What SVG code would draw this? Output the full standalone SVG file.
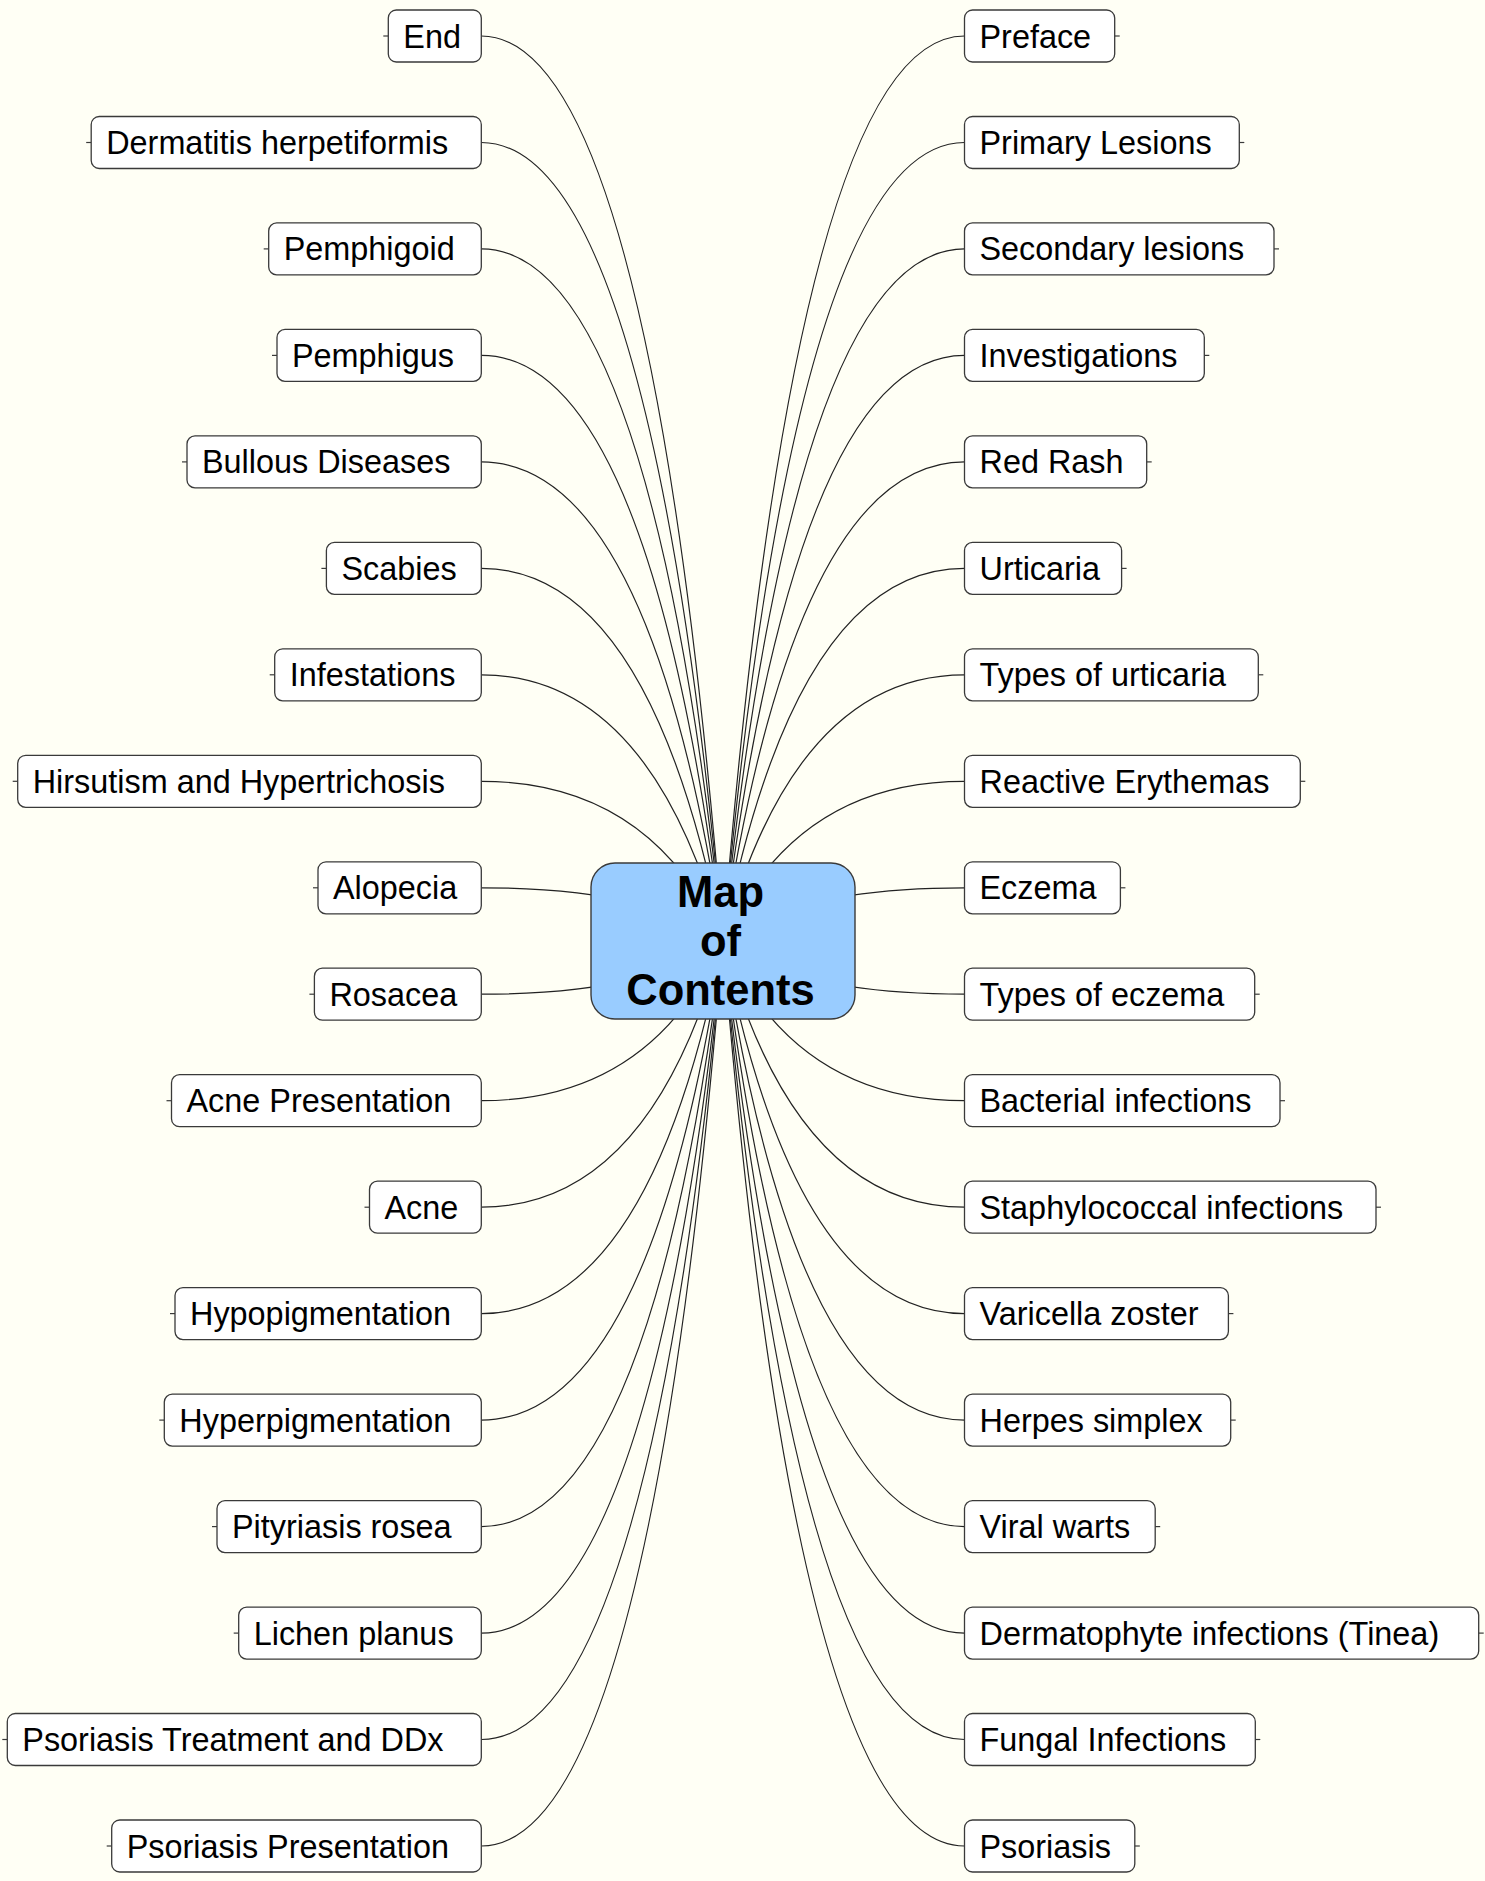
<svg xmlns="http://www.w3.org/2000/svg" width="1485" height="1881" viewBox="0 0 1485 1881">
<style>
  .bg { fill: #fffff5; }
  .box { fill: #ffffff; stroke: #3a3a3a; stroke-width: 1.3; }
  .stub { stroke: #3a3a3a; stroke-width: 1.2; }
  .lbl { font-family: "Liberation Sans", Arial, sans-serif; font-size: 32.4px; fill: #000; }
  .edge { fill: none; stroke: #222; stroke-width: 1.2; }
  .root-box { fill: #99ccff; stroke: #3a3a3a; stroke-width: 1.4; }
  .root-lbl { font-family: "Liberation Sans", Arial, sans-serif; font-size: 43.5px; font-weight: bold; fill: #000; text-anchor: middle; }
</style>
<rect class="bg" x="0" y="0" width="1485" height="1881"/>

<!-- curved branches: quadratic from each topic to the centre of the root -->
<g id="connectors">
  <path class="edge" d="M481.3 36 Q650.4 36 722.9 941"/>
  <path class="edge" d="M481.3 142.5 Q650.4 142.5 722.9 941"/>
  <path class="edge" d="M481.3 248.9 Q650.4 248.9 722.9 941"/>
  <path class="edge" d="M481.3 355.4 Q650.4 355.4 722.9 941"/>
  <path class="edge" d="M481.3 461.9 Q650.4 461.9 722.9 941"/>
  <path class="edge" d="M481.3 568.4 Q650.4 568.4 722.9 941"/>
  <path class="edge" d="M481.3 674.8 Q650.4 674.8 722.9 941"/>
  <path class="edge" d="M481.3 781.3 Q650.4 781.3 722.9 941"/>
  <path class="edge" d="M481.3 887.8 Q650.4 887.8 722.9 941"/>
  <path class="edge" d="M481.3 994.2 Q650.4 994.2 722.9 941"/>
  <path class="edge" d="M481.3 1100.7 Q650.4 1100.7 722.9 941"/>
  <path class="edge" d="M481.3 1207.2 Q650.4 1207.2 722.9 941"/>
  <path class="edge" d="M481.3 1313.6 Q650.4 1313.6 722.9 941"/>
  <path class="edge" d="M481.3 1420.1 Q650.4 1420.1 722.9 941"/>
  <path class="edge" d="M481.3 1526.6 Q650.4 1526.6 722.9 941"/>
  <path class="edge" d="M481.3 1633.1 Q650.4 1633.1 722.9 941"/>
  <path class="edge" d="M481.3 1739.5 Q650.4 1739.5 722.9 941"/>
  <path class="edge" d="M481.3 1846 Q650.4 1846 722.9 941"/>

  <path class="edge" d="M964.5 36 Q795.4 36 722.9 941"/>
  <path class="edge" d="M964.5 142.5 Q795.4 142.5 722.9 941"/>
  <path class="edge" d="M964.5 248.9 Q795.4 248.9 722.9 941"/>
  <path class="edge" d="M964.5 355.4 Q795.4 355.4 722.9 941"/>
  <path class="edge" d="M964.5 461.9 Q795.4 461.9 722.9 941"/>
  <path class="edge" d="M964.5 568.4 Q795.4 568.4 722.9 941"/>
  <path class="edge" d="M964.5 674.8 Q795.4 674.8 722.9 941"/>
  <path class="edge" d="M964.5 781.3 Q795.4 781.3 722.9 941"/>
  <path class="edge" d="M964.5 887.8 Q795.4 887.8 722.9 941"/>
  <path class="edge" d="M964.5 994.2 Q795.4 994.2 722.9 941"/>
  <path class="edge" d="M964.5 1100.7 Q795.4 1100.7 722.9 941"/>
  <path class="edge" d="M964.5 1207.2 Q795.4 1207.2 722.9 941"/>
  <path class="edge" d="M964.5 1313.6 Q795.4 1313.6 722.9 941"/>
  <path class="edge" d="M964.5 1420.1 Q795.4 1420.1 722.9 941"/>
  <path class="edge" d="M964.5 1526.6 Q795.4 1526.6 722.9 941"/>
  <path class="edge" d="M964.5 1633.1 Q795.4 1633.1 722.9 941"/>
  <path class="edge" d="M964.5 1739.5 Q795.4 1739.5 722.9 941"/>
  <path class="edge" d="M964.5 1846 Q795.4 1846 722.9 941"/>
</g>

<!-- root topic -->
<g id="root">
  <rect class="root-box" x="591" y="863" width="264" height="156" rx="24"/>
  <text class="root-lbl" x="720.5" y="907">Map</text>
  <text class="root-lbl" x="720.5" y="956">of</text>
  <text class="root-lbl" x="720.5" y="1005">Contents</text>
</g>

<!-- left-hand topics -->
<g id="n-end"><line class="stub" x1="383.3" y1="36" x2="388.3" y2="36"/><rect class="box" x="388.3" y="10" width="93" height="52" rx="8"/><text class="lbl" x="403.3" y="47.5">End</text></g>
<g id="n-dermatitis-herpetiformis"><line class="stub" x1="86.2" y1="142.5" x2="91.2" y2="142.5"/><rect class="box" x="91.2" y="116.5" width="390.1" height="52" rx="8"/><text class="lbl" x="106.2" y="154">Dermatitis herpetiformis</text></g>
<g id="n-pemphigoid"><line class="stub" x1="263.7" y1="248.9" x2="268.7" y2="248.9"/><rect class="box" x="268.7" y="222.9" width="212.6" height="52" rx="8"/><text class="lbl" x="283.7" y="260.4">Pemphigoid</text></g>
<g id="n-pemphigus"><line class="stub" x1="272" y1="355.4" x2="277" y2="355.4"/><rect class="box" x="277" y="329.4" width="204.3" height="52" rx="8"/><text class="lbl" x="292" y="366.9">Pemphigus</text></g>
<g id="n-bullous-diseases"><line class="stub" x1="182" y1="461.9" x2="187" y2="461.9"/><rect class="box" x="187" y="435.9" width="294.3" height="52" rx="8"/><text class="lbl" x="202" y="473.4">Bullous Diseases</text></g>
<g id="n-scabies"><line class="stub" x1="321.4" y1="568.4" x2="326.4" y2="568.4"/><rect class="box" x="326.4" y="542.4" width="154.9" height="52" rx="8"/><text class="lbl" x="341.4" y="579.9">Scabies</text></g>
<g id="n-infestations"><line class="stub" x1="269.7" y1="674.8" x2="274.7" y2="674.8"/><rect class="box" x="274.7" y="648.8" width="206.6" height="52" rx="8"/><text class="lbl" x="289.7" y="686.3">Infestations</text></g>
<g id="n-hirsutism"><line class="stub" x1="12.7" y1="781.3" x2="17.7" y2="781.3"/><rect class="box" x="17.7" y="755.3" width="463.6" height="52" rx="8"/><text class="lbl" x="32.7" y="792.8">Hirsutism and Hypertrichosis</text></g>
<g id="n-alopecia"><line class="stub" x1="313" y1="887.8" x2="318" y2="887.8"/><rect class="box" x="318" y="861.8" width="163.3" height="52" rx="8"/><text class="lbl" x="333" y="899.3">Alopecia</text></g>
<g id="n-rosacea"><line class="stub" x1="309.4" y1="994.2" x2="314.4" y2="994.2"/><rect class="box" x="314.4" y="968.2" width="166.9" height="52" rx="8"/><text class="lbl" x="329.4" y="1005.7">Rosacea</text></g>
<g id="n-acne-presentation"><line class="stub" x1="166.5" y1="1100.7" x2="171.5" y2="1100.7"/><rect class="box" x="171.5" y="1074.7" width="309.8" height="52" rx="8"/><text class="lbl" x="186.5" y="1112.2">Acne Presentation</text></g>
<g id="n-acne"><line class="stub" x1="364.5" y1="1207.2" x2="369.5" y2="1207.2"/><rect class="box" x="369.5" y="1181.2" width="111.8" height="52" rx="8"/><text class="lbl" x="384.5" y="1218.7">Acne</text></g>
<g id="n-hypopigmentation"><line class="stub" x1="170" y1="1313.6" x2="175" y2="1313.6"/><rect class="box" x="175" y="1287.6" width="306.3" height="52" rx="8"/><text class="lbl" x="190" y="1325.1">Hypopigmentation</text></g>
<g id="n-hyperpigmentation"><line class="stub" x1="159.3" y1="1420.1" x2="164.3" y2="1420.1"/><rect class="box" x="164.3" y="1394.1" width="317" height="52" rx="8"/><text class="lbl" x="179.3" y="1431.6">Hyperpigmentation</text></g>
<g id="n-pityriasis-rosea"><line class="stub" x1="212" y1="1526.6" x2="217" y2="1526.6"/><rect class="box" x="217" y="1500.6" width="264.3" height="52" rx="8"/><text class="lbl" x="232" y="1538.1">Pityriasis rosea</text></g>
<g id="n-lichen-planus"><line class="stub" x1="233.7" y1="1633.1" x2="238.7" y2="1633.1"/><rect class="box" x="238.7" y="1607.1" width="242.6" height="52" rx="8"/><text class="lbl" x="253.7" y="1644.6">Lichen planus</text></g>
<g id="n-psoriasis-treatment"><line class="stub" x1="2.3" y1="1739.5" x2="7.3" y2="1739.5"/><rect class="box" x="7.3" y="1713.5" width="474" height="52" rx="8"/><text class="lbl" x="22.3" y="1751">Psoriasis Treatment and DDx</text></g>
<g id="n-psoriasis-presentation"><line class="stub" x1="106.7" y1="1846" x2="111.7" y2="1846"/><rect class="box" x="111.7" y="1820" width="369.6" height="52" rx="8"/><text class="lbl" x="126.7" y="1857.5">Psoriasis Presentation</text></g>

<!-- right-hand topics -->
<g id="n-preface"><rect class="box" x="964.5" y="10" width="150.2" height="52" rx="8"/><line class="stub" x1="1114.7" y1="36" x2="1119.7" y2="36"/><text class="lbl" x="979.5" y="47.5">Preface</text></g>
<g id="n-primary-lesions"><rect class="box" x="964.5" y="116.5" width="274.8" height="52" rx="8"/><line class="stub" x1="1239.3" y1="142.5" x2="1244.3" y2="142.5"/><text class="lbl" x="979.5" y="154">Primary Lesions</text></g>
<g id="n-secondary-lesions"><rect class="box" x="964.5" y="222.9" width="309.5" height="52" rx="8"/><line class="stub" x1="1274" y1="248.9" x2="1279" y2="248.9"/><text class="lbl" x="979.5" y="260.4">Secondary lesions</text></g>
<g id="n-investigations"><rect class="box" x="964.5" y="329.4" width="239.8" height="52" rx="8"/><line class="stub" x1="1204.3" y1="355.4" x2="1209.3" y2="355.4"/><text class="lbl" x="979.5" y="366.9">Investigations</text></g>
<g id="n-red-rash"><rect class="box" x="964.5" y="435.9" width="182.2" height="52" rx="8"/><line class="stub" x1="1146.7" y1="461.9" x2="1151.7" y2="461.9"/><text class="lbl" x="979.5" y="473.4">Red Rash</text></g>
<g id="n-urticaria"><rect class="box" x="964.5" y="542.4" width="157.1" height="52" rx="8"/><line class="stub" x1="1121.6" y1="568.4" x2="1126.6" y2="568.4"/><text class="lbl" x="979.5" y="579.9">Urticaria</text></g>
<g id="n-types-of-urticaria"><rect class="box" x="964.5" y="648.8" width="293.8" height="52" rx="8"/><line class="stub" x1="1258.3" y1="674.8" x2="1263.3" y2="674.8"/><text class="lbl" x="979.5" y="686.3">Types of urticaria</text></g>
<g id="n-reactive-erythemas"><rect class="box" x="964.5" y="755.3" width="335.8" height="52" rx="8"/><line class="stub" x1="1300.3" y1="781.3" x2="1305.3" y2="781.3"/><text class="lbl" x="979.5" y="792.8">Reactive Erythemas</text></g>
<g id="n-eczema"><rect class="box" x="964.5" y="861.8" width="155.9" height="52" rx="8"/><line class="stub" x1="1120.4" y1="887.8" x2="1125.4" y2="887.8"/><text class="lbl" x="979.5" y="899.3">Eczema</text></g>
<g id="n-types-of-eczema"><rect class="box" x="964.5" y="968.2" width="290.2" height="52" rx="8"/><line class="stub" x1="1254.7" y1="994.2" x2="1259.7" y2="994.2"/><text class="lbl" x="979.5" y="1005.7">Types of eczema</text></g>
<g id="n-bacterial-infections"><rect class="box" x="964.5" y="1074.7" width="315.5" height="52" rx="8"/><line class="stub" x1="1280" y1="1100.7" x2="1285" y2="1100.7"/><text class="lbl" x="979.5" y="1112.2">Bacterial infections</text></g>
<g id="n-staphylococcal-infections"><rect class="box" x="964.5" y="1181.2" width="411.5" height="52" rx="8"/><line class="stub" x1="1376" y1="1207.2" x2="1381" y2="1207.2"/><text class="lbl" x="979.5" y="1218.7">Staphylococcal infections</text></g>
<g id="n-varicella-zoster"><rect class="box" x="964.5" y="1287.6" width="263.9" height="52" rx="8"/><line class="stub" x1="1228.4" y1="1313.6" x2="1233.4" y2="1313.6"/><text class="lbl" x="979.5" y="1325.1">Varicella zoster</text></g>
<g id="n-herpes-simplex"><rect class="box" x="964.5" y="1394.1" width="266.2" height="52" rx="8"/><line class="stub" x1="1230.7" y1="1420.1" x2="1235.7" y2="1420.1"/><text class="lbl" x="979.5" y="1431.6">Herpes simplex</text></g>
<g id="n-viral-warts"><rect class="box" x="964.5" y="1500.6" width="190.7" height="52" rx="8"/><line class="stub" x1="1155.2" y1="1526.6" x2="1160.2" y2="1526.6"/><text class="lbl" x="979.5" y="1538.1">Viral warts</text></g>
<g id="n-dermatophyte-infections"><rect class="box" x="964.5" y="1607.1" width="514.2" height="52" rx="8"/><line class="stub" x1="1478.7" y1="1633.1" x2="1483.7" y2="1633.1"/><text class="lbl" x="979.5" y="1644.6">Dermatophyte infections (Tinea)</text></g>
<g id="n-fungal-infections"><rect class="box" x="964.5" y="1713.5" width="290.8" height="52" rx="8"/><line class="stub" x1="1255.3" y1="1739.5" x2="1260.3" y2="1739.5"/><text class="lbl" x="979.5" y="1751">Fungal Infections</text></g>
<g id="n-psoriasis"><rect class="box" x="964.5" y="1820" width="170.3" height="52" rx="8"/><line class="stub" x1="1134.8" y1="1846" x2="1139.8" y2="1846"/><text class="lbl" x="979.5" y="1857.5">Psoriasis</text></g>
</svg>
